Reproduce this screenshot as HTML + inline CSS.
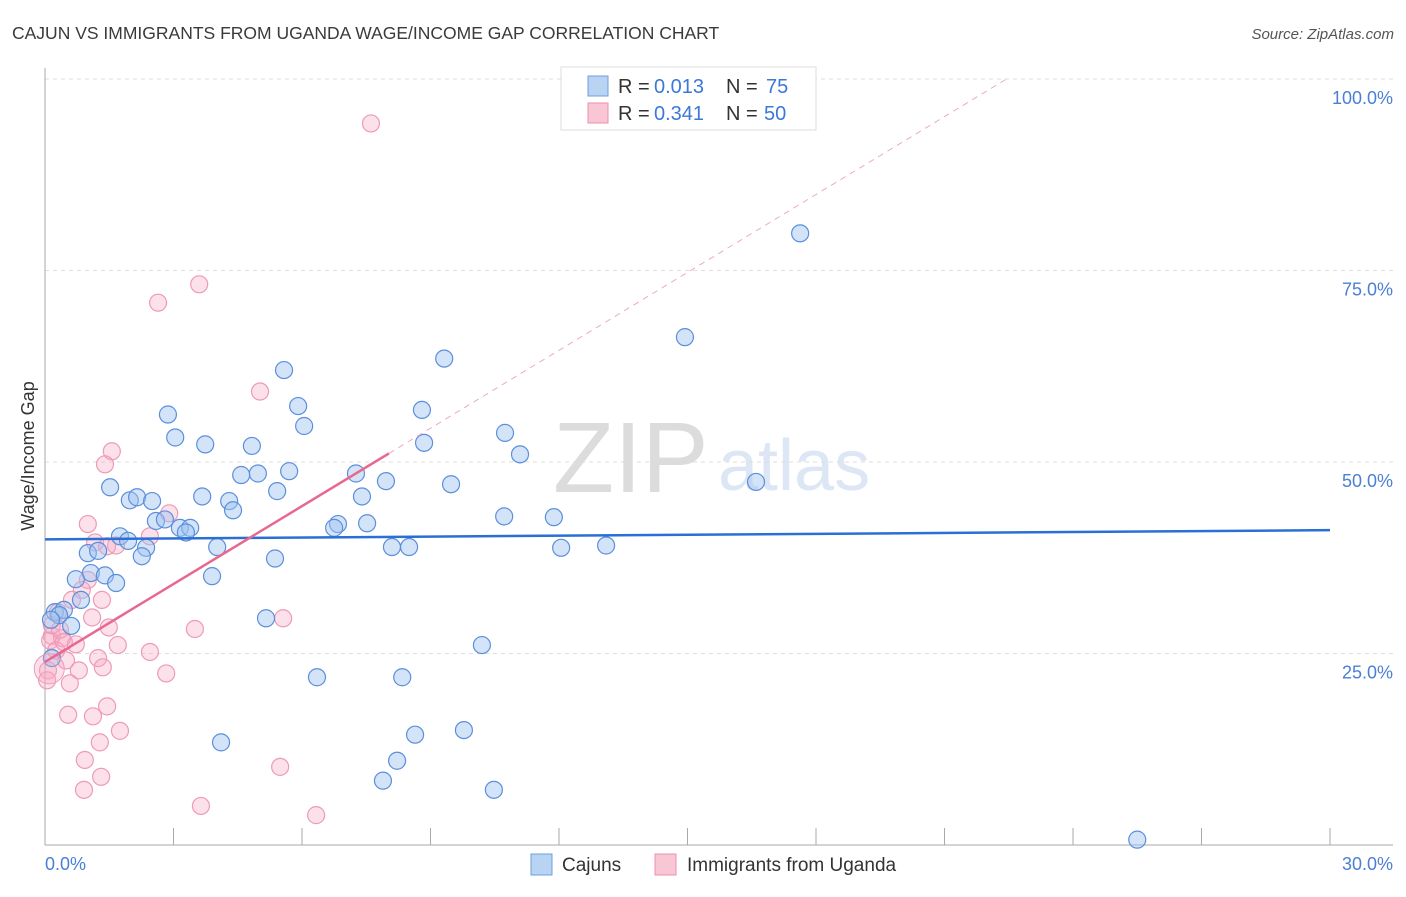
<!DOCTYPE html>
<html><head><meta charset="utf-8"><style>
body{margin:0;background:#fff;font-family:"Liberation Sans",sans-serif;}
svg text{font-family:"Liberation Sans",sans-serif;}
</style></head><body>
<svg id="chart" width="1406" height="892" xmlns="http://www.w3.org/2000/svg">
<text x="12" y="39" font-size="17.5" fill="#3a3a3a">CAJUN VS IMMIGRANTS FROM UGANDA WAGE/INCOME GAP CORRELATION CHART</text>
<text x="1394" y="39" font-size="15" fill="#555" font-style="italic" text-anchor="end">Source: ZipAtlas.com</text>
<text x="553" y="492" font-size="100" fill="#dcdcdc" font-family="Liberation Serif">ZIP</text>
<text x="718" y="490" font-size="72" fill="#dce6f5">atlas</text>
<g id="grid"></g>
<g id="axes"></g>
<g id="pts"></g>
<g id="trend"></g>
<text x="34" y="456" font-size="18" fill="#333" text-anchor="middle" transform="rotate(-90 34 456)">Wage/Income Gap</text>
<g>
<rect x="561" y="67" width="255" height="63" fill="#fff" stroke="#ddd"/>
<rect x="588" y="76" width="20" height="20" fill="#b9d3f3" stroke="#6d9ee0"/>
<rect x="588" y="103" width="20" height="20" fill="#f9c6d6" stroke="#ec8fae"/>
<text x="618" y="93" font-size="20" fill="#333">R =</text>
<text x="654" y="93" font-size="20" fill="#3b78d8">0.013</text>
<text x="726" y="93" font-size="20" fill="#333">N =</text>
<text x="766" y="93" font-size="20" fill="#3b78d8">75</text>
<text x="618" y="120" font-size="20" fill="#333">R =</text>
<text x="654" y="120" font-size="20" fill="#3b78d8">0.341</text>
<text x="726" y="120" font-size="20" fill="#333">N =</text>
<text x="764" y="120" font-size="20" fill="#3b78d8">50</text>
</g>
<g>
<rect x="531" y="854" width="21" height="21" fill="#b9d3f3" stroke="#6d9ee0"/>
<text x="562" y="871" font-size="19" fill="#333">Cajuns</text>
<rect x="655" y="854" width="21" height="21" fill="#f9c6d6" stroke="#ec8fae"/>
<text x="687" y="871" font-size="19" fill="#333">Immigrants from Uganda</text>
</g>
</svg>
<script>
const yTicks=[25,50,75,100];
const yTickLabels=["25.0%","50.0%","75.0%","100.0%"];
const xTickLabels=["0.0%","30.0%"];
const blueX=[17.63,14.94,9.32,5.58,8.80,2.87,5.91,6.05,3.04,3.74,4.83,10.74,8.85,11.09,5.70,4.97,4.58,7.26,1.52,7.96,9.48,16.60,5.42,1.98,2.15,2.50,3.67,4.30,7.40,4.39,2.59,2.80,3.15,3.39,3.29,10.72,11.88,6.84,7.52,6.75,1.75,1.94,2.36,2.26,4.02,8.10,8.50,12.05,13.10,1.00,1.24,5.37,1.07,1.40,0.72,1.66,3.90,0.84,0.23,0.44,0.33,0.61,5.16,10.20,6.35,8.34,0.16,4.11,9.78,8.64,8.22,7.89,10.48,25.50,0.14];
const blueY=[79.85,66.3,63.5,62.0,56.8,56.2,57.3,54.7,53.2,52.3,52.1,53.8,52.5,51.0,48.8,48.5,48.3,48.5,46.7,47.5,47.1,47.4,46.2,45.0,45.4,44.9,45.5,44.9,45.5,43.7,42.3,42.5,41.4,41.4,40.8,42.9,42.8,41.9,42.0,41.4,40.3,39.7,38.8,37.7,38.9,38.9,38.9,38.8,39.1,38.1,38.4,37.4,35.5,35.2,34.7,34.2,35.1,32.0,30.4,30.7,30.0,28.6,29.6,26.1,21.9,21.9,24.4,13.4,15.0,14.4,11.0,8.4,7.2,0.7,29.4];
const pinkX=[7.61,3.60,2.64,5.02,1.56,1.40,2.90,1.00,2.45,1.17,1.66,1.45,1.00,0.86,1.33,1.10,1.49,0.30,0.16,0.40,0.72,1.70,2.45,1.24,1.35,0.79,2.83,0.58,3.50,5.56,0.54,1.12,1.45,1.75,1.28,0.93,1.31,0.91,5.49,3.64,6.33,0.07,0.12,0.26,0.49,0.16,0.35,0.05,0.63,0.44];
const pinkY=[94.2,73.2,70.8,59.2,51.4,49.7,43.3,41.9,40.3,39.5,39.1,39.0,34.6,33.3,32.0,29.7,28.4,30.4,27.3,27.0,26.2,26.1,25.2,24.4,23.2,22.8,22.4,21.1,28.2,29.6,17.0,16.8,18.1,14.9,13.4,11.1,8.9,7.2,10.2,5.1,3.9,22.8,26.7,25.4,24.1,28.7,28.1,21.5,32.0,26.5];
const blueTrend=[39.9,41.1];
const pinkTrend=[23.9,3.39];
const NS="http://www.w3.org/2000/svg";
const sx=v=>45+v*(1285/30), sy=v=>845-v*7.66;
function mk(tag,attrs,parent){const e=document.createElementNS(NS,tag);for(const k in attrs)e.setAttribute(k,attrs[k]);document.getElementById(parent).appendChild(e);return e;}
yTicks.forEach((t,i)=>{
 const g=mk('line',{x1:45,x2:1393,y1:sy(t),y2:sy(t),stroke:'#ddd','stroke-dasharray':'4,4'},'grid');
 
 
 const l=mk('text',{x:1393,y:sy(t)+25,'font-size':18,fill:'#4a7fd4','text-anchor':'end'},'axes');
 l.textContent=yTickLabels[i];
 
 
});
const ya=mk('line',{x1:45,x2:45,y1:68,y2:845,stroke:'#aaa'},'axes');


const xa=mk('line',{x1:45,x2:1393,y1:845,y2:845,stroke:'#aaa'},'axes');


for(let i=1;i<=10;i++){const t=mk('line',{x1:sx(i*3),x2:sx(i*3),y1:828,y2:845,stroke:'#aaa'},'axes');
 
 }
const xl0=mk('text',{x:45,y:870,'font-size':18,fill:'#4a7fd4'},'axes');xl0.textContent=xTickLabels[0];


const xl1=mk('text',{x:1393,y:870,'font-size':18,fill:'#4a7fd4','text-anchor':'end'},'axes');xl1.textContent=xTickLabels[1];


pinkX.forEach((x,i)=>{const c=mk('circle',{cx:sx(x),cy:sy(pinkY[i]),r:8.5,fill:'rgba(246,170,195,0.35)',stroke:'#ee9ab6','stroke-width':1.2},'pts');
 
 });
blueX.forEach((x,i)=>{const c=mk('circle',{cx:sx(x),cy:sy(blueY[i]),r:8.5,fill:'rgba(160,195,240,0.45)',stroke:'#5b8fdc','stroke-width':1.2},'pts');
 
 });
const big1=mk('circle',{cx:sx(0.1),cy:sy(23),r:15,fill:'rgba(246,170,195,0.35)',stroke:'#ee9ab6'},'pts');


const bl=mk('line',{x1:sx(0),y1:sy(blueTrend[0]),x2:sx(30),y2:sy(blueTrend[1]),stroke:'#2a6fd6','stroke-width':2.5},'trend');


const pxEnd=8.03, pxTop=(100-pinkTrend[0])/pinkTrend[1];
const pd=mk('line',{x1:sx(pxEnd),y1:sy(pinkTrend[0]+pinkTrend[1]*pxEnd),x2:sx(pxTop),y2:sy(100),stroke:'#eeaabd','stroke-width':1,'stroke-dasharray':'6,5'},'trend');


const pl=mk('line',{x1:sx(0),y1:sy(pinkTrend[0]),x2:sx(pxEnd),y2:sy(pinkTrend[0]+pinkTrend[1]*pxEnd),stroke:'#e8698f','stroke-width':2.5},'trend');


</script>
</body></html>
